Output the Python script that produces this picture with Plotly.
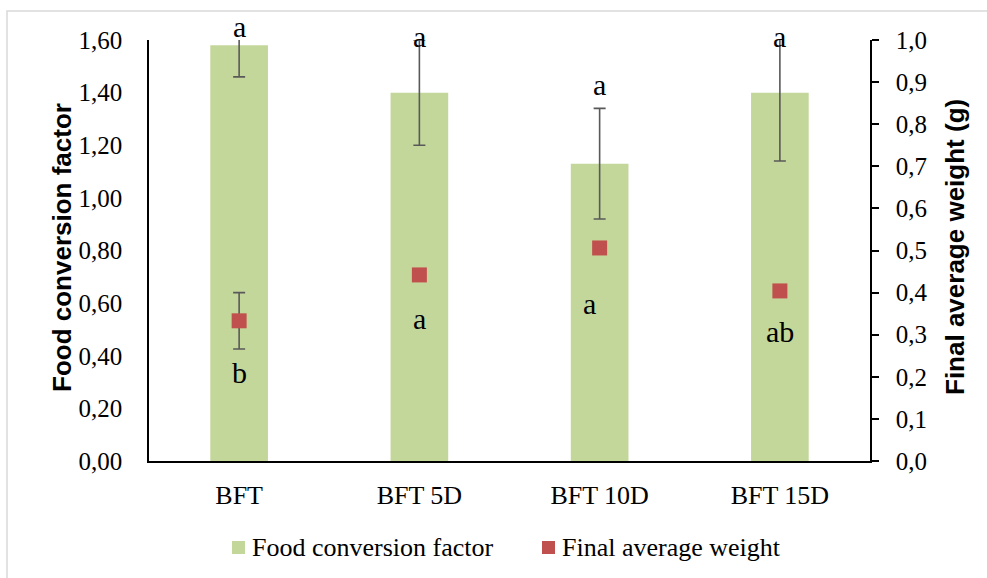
import plotly.graph_objects as go

# Treatments
categories = ["BFT", "BFT 5D", "BFT 10D", "BFT 15D"]

# Food conversion factor (left axis) with standard deviation
fcr = [1.58, 1.40, 1.13, 1.40]
fcr_sd = [0.12, 0.20, 0.21, 0.26]
fcr_letters = ["a", "a", "a", "a"]

# Final average weight in grams (right axis) with standard deviation
weight = [0.333, 0.442, 0.506, 0.404]
weight_sd = [0.067, None, None, None]
weight_letters = ["b", "a", "a", "ab"]

BAR_COLOR = "#C4D79B"
POINT_COLOR = "#C0504D"
ERR_COLOR = "#595959"
SERIF = "Liberation Serif"
SANS = "Liberation Sans"

# plot area in pixels: x 149..870, y 40..461
PLOT_L, PLOT_R, PLOT_T, PLOT_B = 149, 870, 40, 461


def px_to_paper_x(px):
    return (px - PLOT_L) / (PLOT_R - PLOT_L)


def px_to_paper_y(py):
    return (PLOT_B - py) / (PLOT_B - PLOT_T)


fig = go.Figure()

fig.add_trace(go.Bar(
    x=categories, y=fcr, name="Food conversion factor",
    marker=dict(color=BAR_COLOR, line=dict(width=0)),
    width=0.32,
    error_y=dict(type="data", array=fcr_sd, visible=True,
                 color=ERR_COLOR, thickness=1.6, width=6),
    yaxis="y", showlegend=False,
))

fig.add_trace(go.Scatter(
    x=categories, y=weight, name="Final average weight",
    mode="markers",
    marker=dict(symbol="square", size=15, color=POINT_COLOR),
    error_y=dict(type="data", array=weight_sd, visible=True,
                 color=ERR_COLOR, thickness=1.6, width=6),
    yaxis="y2", showlegend=False,
))

# Significance letters
top_letter_py = [27, 37, 84, 37]          # above the bars
low_letter_y = [0.338, 0.543, 0.600, 0.494]  # around the weight markers (left-axis units)
low_letter_shift = [0, 0, -10, 0]
LETTER_FONT = dict(family=SERIF, size=30, color="black")
annotations = []
for i, cat in enumerate(categories):
    annotations.append(dict(
        x=cat, y=px_to_paper_y(top_letter_py[i]), xref="x", yref="paper",
        text=fcr_letters[i], showarrow=False, font=LETTER_FONT,
        xanchor="center", yanchor="middle"))
    annotations.append(dict(
        x=cat, y=low_letter_y[i], xref="x", yref="y", text=weight_letters[i],
        xshift=low_letter_shift[i], showarrow=False, font=LETTER_FONT,
        xanchor="center", yanchor="middle"))

# Axis titles
TITLE_FONT = dict(family=SANS, size=26, color="black")
annotations.append(dict(
    x=px_to_paper_x(62), y=px_to_paper_y(248), xref="paper", yref="paper",
    text="<b>Food conversion factor</b>", textangle=-90, showarrow=False,
    font=TITLE_FONT, xanchor="center", yanchor="middle"))
annotations.append(dict(
    x=px_to_paper_x(955), y=px_to_paper_y(247), xref="paper", yref="paper",
    text="<b>Final average weight (g)</b>", textangle=-90, showarrow=False,
    font=TITLE_FONT, xanchor="center", yanchor="middle"))

# Legend (symbol squares + labels)
LEGEND_FONT = dict(family=SERIF, size=26, color="black")
legend_items = [("Food conversion factor", BAR_COLOR, 232),
                ("Final average weight", POINT_COLOR, 542)]
shapes = []
for label, color, x0 in legend_items:
    shapes.append(dict(type="rect", xref="paper", yref="paper",
                       x0=px_to_paper_x(x0), x1=px_to_paper_x(x0 + 13),
                       y0=px_to_paper_y(554), y1=px_to_paper_y(541),
                       fillcolor=color, line=dict(width=0)))
    annotations.append(dict(
        x=px_to_paper_x(x0 + 18), y=px_to_paper_y(547), xref="paper", yref="paper",
        text=label, showarrow=False, font=LEGEND_FONT,
        xanchor="left", yanchor="middle"))

# Outer chart border
shapes.append(dict(type="rect", xref="paper", yref="paper",
                   x0=px_to_paper_x(7), x1=px_to_paper_x(995),
                   y0=px_to_paper_y(585), y1=px_to_paper_y(11),
                   line=dict(color="#D9D9D9", width=1.5),
                   fillcolor="rgba(0,0,0,0)", layer="below"))

fig.update_layout(
    width=987, height=578,
    margin=dict(l=PLOT_L, r=987 - PLOT_R, t=PLOT_T, b=578 - PLOT_B),
    paper_bgcolor="white", plot_bgcolor="white",
    showlegend=False,
    xaxis=dict(
        type="category", showgrid=False, zeroline=False,
        showline=True, linecolor="black", linewidth=1.5,
        ticks="", ticklabelstandoff=10,
        tickfont=dict(family=SERIF, size=26, color="black"),
    ),
    yaxis=dict(
        range=[0, 1.6], tickvals=[0, 0.2, 0.4, 0.6, 0.8, 1.0, 1.2, 1.4, 1.6],
        ticktext=["0,00", "0,20", "0,40", "0,60", "0,80", "1,00", "1,20", "1,40", "1,60"],
        showgrid=False, zeroline=False,
        showline=True, linecolor="black", linewidth=1.5,
        ticks="", ticklabelstandoff=20,
        tickfont=dict(family=SERIF, size=25, color="black"),
    ),
    yaxis2=dict(
        overlaying="y", side="right", range=[0, 1.0],
        tickvals=[i / 10 for i in range(11)],
        ticktext=[f"{i // 10},{i % 10}" for i in range(11)],
        showgrid=False, zeroline=False,
        showline=True, linecolor="black", linewidth=1.5,
        ticks="outside", ticklen=7, tickwidth=1.5, tickcolor="black",
        ticklabelstandoff=12,
        tickfont=dict(family=SERIF, size=25, color="black"),
    ),
    annotations=annotations,
    shapes=shapes,
)

fig.write_html("out.html")
